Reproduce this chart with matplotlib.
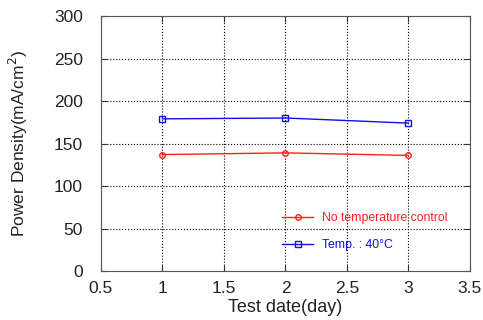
import matplotlib
matplotlib.use("Agg")
import matplotlib.pyplot as plt

plt.rcParams['font.family'] = ['Liberation Sans', 'DejaVu Sans']

days = [1, 2, 3]
no_temp = [137, 139, 136]
temp40 = [179, 180, 174]

fig = plt.figure(figsize=(4.83, 3.2), dpi=100)
ax = fig.add_axes([0.209, 0.153, 0.764, 0.797])

ax.plot(days, no_temp, color='#ff2020', marker='o', markersize=4,
        markerfacecolor='none', linewidth=1, label='No temperature control')
ax.plot(days, temp40, color='#1010e8', marker='s', markersize=5,
        markerfacecolor='none', linewidth=1, label='Temp. : 40\u00b0C')

ax.set_xlim(0.5, 3.5)
ax.set_ylim(0, 300)
ax.set_xticks([0.5, 1, 1.5, 2, 2.5, 3, 3.5])
ax.set_yticks([0, 50, 100, 150, 200, 250, 300])
ax.set_xticklabels(['0.5', '1', '1.5', '2', '2.5', '3', '3.5'])
ax.grid(True, color='black', linestyle=':', linewidth=0.8)
ax.tick_params(direction='in', top=True, right=True, labelsize=12.5, length=4,
               colors='#333333', labelcolor='#222222')
ax.tick_params(axis='x', pad=7)
ax.tick_params(axis='y', pad=13)
for s in ax.spines.values():
    s.set_color('#555555')

ax.set_xlabel('Test date(day)', fontsize=13, labelpad=2, color='#222222')
ax.set_ylabel('Power Density(mA/cm$^2$)', fontsize=12.5, labelpad=17, color='#222222')

leg = ax.legend(loc='lower right', bbox_to_anchor=(0.969, 0.035), frameon=False,
                fontsize=8.8, handlelength=2.6, labelspacing=1.2, handletextpad=0.7)
for t, c in zip(leg.get_texts(), ['#ff2020', '#1010e8']):
    t.set_color(c)

fig.savefig('out.png', dpi=100)
